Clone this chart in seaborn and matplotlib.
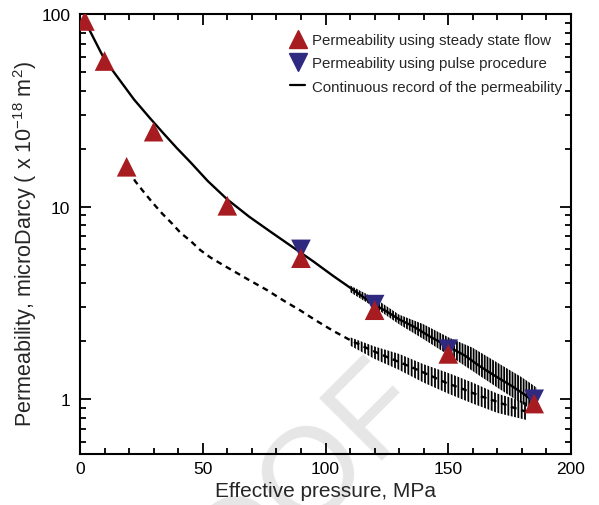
import numpy as np
import pandas as pd
import matplotlib
matplotlib.use("Agg")
import matplotlib.pyplot as plt
from matplotlib.lines import Line2D
from matplotlib.ticker import FixedLocator, LogLocator, NullFormatter, FixedFormatter
import seaborn as sns

# ---- data ----
steady_p = [2, 10, 19, 30, 60, 90, 120, 150, 185]
steady_k = [92, 57, 16.1, 24.5, 10.1, 5.4, 2.9, 1.72, 0.95]

pulse_p = [90, 120, 150, 185]
pulse_k = [6.0, 3.1, 1.82, 1.0]

upper_p = [2, 6, 10, 16, 22, 28.5, 34, 39.5, 45, 52, 60, 69, 78, 87, 95, 103,
           111, 119, 125, 130, 136, 143, 150, 157, 163, 170, 176, 181, 185]
upper_k = [92, 73, 58, 45.7, 36, 28.8, 24, 20.1, 17, 13.6, 10.9, 8.85, 7.35,
           6.12, 5.2, 4.38, 3.72, 3.15, 2.85, 2.6, 2.38, 2.1, 1.88, 1.68, 1.48,
           1.3, 1.17, 1.06, 0.97]

lower_p = [20, 22.4, 26, 29.8, 33.5, 37.5, 41, 44.8, 49, 53, 58, 62.3, 69, 76,
           83, 89.6, 96, 103, 110, 117, 123, 129, 136, 142.6, 149, 156, 163,
           170, 176, 182]
lower_k = [15.5, 13.6, 11.9, 10.4, 9.2, 8.17, 7.3, 6.68, 5.95, 5.46, 5.0,
           4.65, 4.15, 3.7, 3.25, 2.9, 2.57, 2.27, 2.03, 1.84, 1.7, 1.58, 1.45,
           1.33, 1.22, 1.13, 1.04, 0.97, 0.91, 0.86]

# scatter envelope of the noisy end of the records
band_up_p = [110, 120, 130, 140, 150, 160, 170, 180, 186]
band_up_hi = [3.9, 3.35, 2.75, 2.45, 2.1, 1.85, 1.55, 1.3, 1.15]
band_up_lo = [3.6, 3.0, 2.45, 2.05, 1.7, 1.4, 1.15, 0.95, 0.85]
band_lo_p = [110, 120, 130, 140, 150, 160, 170, 182]
band_lo_hi = [2.1, 1.88, 1.72, 1.52, 1.37, 1.22, 1.07, 0.96]
band_lo_lo = [1.9, 1.62, 1.42, 1.22, 1.07, 0.95, 0.85, 0.78]

x_ticks = [0, 50, 100, 150, 200]
y_ticks = [1, 10, 100]
y_tick_labels = ["1", "10", "100"]

RED = "#A61C20"
BLUE = "#2F2A80"

sns.set_style("ticks")
plt.rcParams["font.family"] = ["Liberation Sans", "DejaVu Sans"]
plt.rcParams["mathtext.fontset"] = "custom"
plt.rcParams["mathtext.rm"] = "Liberation Sans"
plt.rcParams["mathtext.it"] = "Liberation Sans"
plt.rcParams["hatch.linewidth"] = 1.3

fig = plt.figure(figsize=(5.99, 5.06), dpi=100)
ax = fig.add_axes([80 / 599, 1 - 455 / 506, (571 - 80) / 599, (455 - 15) / 506])
ax.set_facecolor("none")

# watermark
fig.text(428 / 599, 1 - 405 / 506, "PROOF", fontsize=92, color="#e6e6e6",
         rotation=45, rotation_mode="anchor", ha="right", va="baseline",
         zorder=-5)

df_up = pd.DataFrame({"p": upper_p, "k": upper_k})
df_lo = pd.DataFrame({"p": lower_p, "k": lower_k})
sns.lineplot(data=df_up, x="p", y="k", ax=ax, color="black", lw=1.7,
             estimator=None, sort=False, zorder=2)
sns.lineplot(data=df_lo, x="p", y="k", ax=ax, color="black", lw=1.7,
             estimator=None, sort=False, dashes=False, zorder=2)
ax.lines[-1].set_dashes([2.5, 2.0])

ax.fill_between(band_up_p, band_up_lo, band_up_hi, facecolor="none",
                edgecolor="black", hatch="||||||", linewidth=0, zorder=2)
ax.fill_between(band_lo_p, band_lo_lo, band_lo_hi, facecolor="none",
                edgecolor="black", hatch="|||||", linewidth=0, zorder=2)

df_pulse = pd.DataFrame({"p": pulse_p, "k": pulse_k})
df_steady = pd.DataFrame({"p": steady_p, "k": steady_k})
sns.scatterplot(data=df_pulse, x="p", y="k", ax=ax, marker="v", s=200,
                color=BLUE, edgecolor="none", zorder=3)
sns.scatterplot(data=df_steady, x="p", y="k", ax=ax, marker="^", s=200,
                color=RED, edgecolor="none", zorder=4)

ax.set_yscale("log")
ax.set_xlim(0, 200)
ax.set_ylim(0.52, 100)

ax.xaxis.set_major_locator(FixedLocator(x_ticks))
ax.xaxis.set_minor_locator(FixedLocator(list(range(0, 201, 10))))
ax.yaxis.set_major_locator(FixedLocator(y_ticks))
ax.yaxis.set_major_formatter(FixedFormatter(y_tick_labels))
ax.yaxis.set_minor_locator(LogLocator(base=10, subs=np.arange(2, 10)))
ax.yaxis.set_minor_formatter(NullFormatter())

ax.tick_params(which="both", direction="in", top=True, right=True,
               width=1.3, colors="black", labelsize=12.5)
ax.tick_params(axis="x", pad=5)
ax.tick_params(axis="y", pad=7)
ax.tick_params(which="major", length=8)
ax.tick_params(which="minor", length=4.5)
for s in ax.spines.values():
    s.set_linewidth(1.5)
    s.set_color("black")
    s.set_visible(True)

ax.set_xlabel("Effective pressure, MPa", fontsize=15, labelpad=4)
ax.set_ylabel(r"Permeability, microDarcy ( x 10$^{-18}$ m$^{2}$)",
              fontsize=15.5)
ax.yaxis.set_label_coords(-0.083, 0.48)

handles = [
    Line2D([], [], marker="^", color=RED, ls="none", ms=13),
    Line2D([], [], marker="v", color=BLUE, ls="none", ms=13),
    Line2D([], [], color="black", lw=1.6, ls="-"),
]
labels = ["Permeability using steady state flow",
          "Permeability using pulse procedure",
          "Continuous record of the permeability"]
leg = ax.legend(handles, labels, loc="upper left",
                bbox_to_anchor=(290 / 599, 1 - 34 / 506),
                bbox_transform=fig.transFigure, frameon=False, fontsize=10.8,
                handlelength=1.0, handletextpad=0.45, labelspacing=0.62,
                borderpad=0, borderaxespad=0)
ax.set_zorder(1)

fig.savefig("out.png", dpi=100)
